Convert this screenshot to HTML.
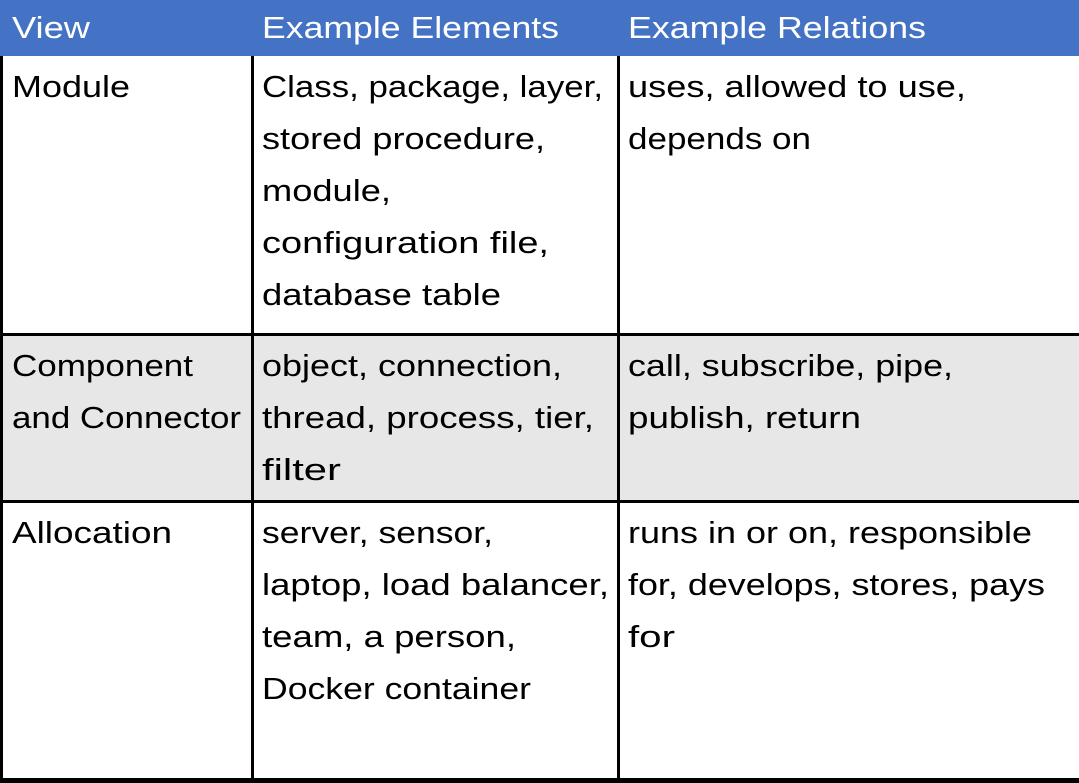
<!DOCTYPE html>
<html><head><meta charset="utf-8"><style>
html,body{margin:0;padding:0;background:#fff;}
svg{display:block;}
text{font-family:"Liberation Sans",sans-serif;font-size:31px;fill:#000;}
.h{fill:#fff;}
</style></head><body>
<svg width="1079" height="783" viewBox="0 0 1079 783" xmlns="http://www.w3.org/2000/svg">
<rect x="0" y="0" width="1079" height="56" fill="#4472C4"/>
<rect x="0" y="335" width="1079" height="166" fill="#E7E7E7"/>
<rect x="0" y="56" width="3" height="727" fill="#000"/>
<rect x="251" y="56" width="3" height="727" fill="#000"/>
<rect x="617" y="56" width="3" height="727" fill="#000"/>
<rect x="0" y="333" width="1079" height="3" fill="#000"/>
<rect x="0" y="500" width="1079" height="3" fill="#000"/>
<rect x="0" y="778" width="1079" height="5" fill="#000"/>
<g lengthAdjust="spacingAndGlyphs">
<text class="h" x="12" y="38" textLength="78" lengthAdjust="spacingAndGlyphs">View</text>
<text class="h" x="262" y="38" textLength="297" lengthAdjust="spacingAndGlyphs">Example Elements</text>
<text class="h" x="628" y="38" textLength="298" lengthAdjust="spacingAndGlyphs">Example Relations</text>

<text x="12" y="97" textLength="118" lengthAdjust="spacingAndGlyphs">Module</text>
<text x="262" y="97" textLength="341" lengthAdjust="spacingAndGlyphs">Class, package, layer,</text>
<text x="262" y="149" textLength="283" lengthAdjust="spacingAndGlyphs">stored procedure,</text>
<text x="262" y="201" textLength="129" lengthAdjust="spacingAndGlyphs">module,</text>
<text x="262" y="253" textLength="287" lengthAdjust="spacingAndGlyphs">configuration file,</text>
<text x="262" y="305" textLength="239" lengthAdjust="spacingAndGlyphs">database table</text>
<text x="628" y="97" textLength="338" lengthAdjust="spacingAndGlyphs">uses, allowed to use,</text>
<text x="628" y="149" textLength="183" lengthAdjust="spacingAndGlyphs">depends on</text>

<text x="12" y="376" textLength="181" lengthAdjust="spacingAndGlyphs">Component</text>
<text x="12" y="428" textLength="229" lengthAdjust="spacingAndGlyphs">and Connector</text>
<text x="262" y="376" textLength="300" lengthAdjust="spacingAndGlyphs">object, connection,</text>
<text x="262" y="428" textLength="332" lengthAdjust="spacingAndGlyphs">thread, process, tier,</text>
<text x="262" y="480" textLength="79" lengthAdjust="spacingAndGlyphs">filter</text>
<text x="628" y="376" textLength="325" lengthAdjust="spacingAndGlyphs">call, subscribe, pipe,</text>
<text x="628" y="428" textLength="233" lengthAdjust="spacingAndGlyphs">publish, return</text>

<text x="12" y="543" textLength="160" lengthAdjust="spacingAndGlyphs">Allocation</text>
<text x="262" y="543" textLength="231" lengthAdjust="spacingAndGlyphs">server, sensor,</text>
<text x="262" y="595" textLength="347" lengthAdjust="spacingAndGlyphs">laptop, load balancer,</text>
<text x="262" y="647" textLength="254" lengthAdjust="spacingAndGlyphs">team, a person,</text>
<text x="262" y="699" textLength="269" lengthAdjust="spacingAndGlyphs">Docker container</text>
<text x="628" y="543" textLength="404" lengthAdjust="spacingAndGlyphs">runs in or on, responsible</text>
<text x="628" y="595" textLength="417" lengthAdjust="spacingAndGlyphs">for, develops, stores, pays</text>
<text x="628" y="647" textLength="47" lengthAdjust="spacingAndGlyphs">for</text>
</g>
</svg>
</body></html>
